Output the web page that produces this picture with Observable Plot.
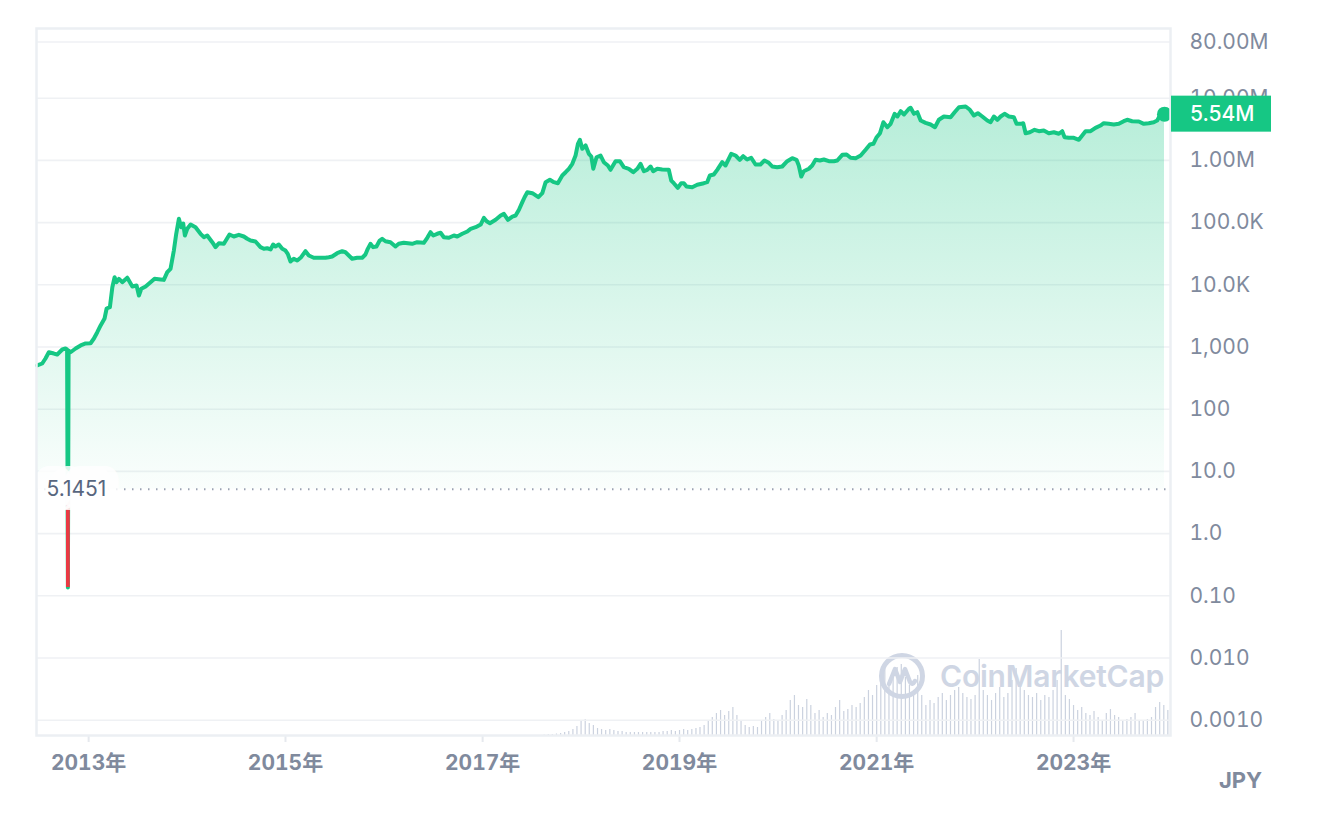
<!DOCTYPE html>
<html><head><meta charset="utf-8">
<script src="https://cdn.jsdelivr.net/npm/d3@7"></script>
<script src="https://cdn.jsdelivr.net/npm/@observablehq/plot@0.6"></script>
<style>
body{margin:0;background:#fff;font-family:Inter,"Noto Sans CJK JP",sans-serif;}
#wrap{position:relative;width:1318px;height:819px;overflow:hidden;}
#wrap > svg{position:absolute;left:0;top:0;}
[aria-label^="x-axis"] text{font-weight:700;}
[aria-label^="x-axis"] line,[aria-label^="x-axis"] path{stroke:#e6e9ee;stroke-width:2px;}
#jpy{position:absolute;left:1219px;top:767px;font:700 22px Inter,sans-serif;color:#808a9d;}
#wm{position:absolute;left:878px;top:652px;display:flex;align-items:center;gap:14px;color:#cfd6e4;font:600 30px Inter,sans-serif;letter-spacing:-0.2px;}
</style></head><body><div id="wrap"></div>
<script>
// ---- data ----
const priceYears = [
2012.479,2012.530,2012.563,2012.597,2012.648,2012.682,2012.733,2012.766,2012.782,2012.790,2012.797,2012.817,2012.868,2012.919,2012.970,
2013.020,2013.054,2013.088,2013.122,2013.162,2013.183,2013.216,2013.241,2013.264,2013.284,2013.308,2013.342,2013.393,2013.444,2013.487,2013.511,2013.535,2013.579,2013.629,2013.670,2013.731,2013.764,2013.799,2013.832,2013.866,2013.890,2013.917,2013.941,2013.961,2013.978,
2014.002,2014.036,2014.086,2014.137,2014.171,2014.205,2014.256,2014.289,2014.323,2014.374,2014.431,2014.475,2014.526,2014.577,2014.611,2014.645,2014.695,2014.746,2014.780,2014.814,2014.848,2014.875,2014.898,2014.932,2014.967,
2015.000,2015.023,2015.051,2015.084,2015.119,2015.159,2015.203,2015.237,2015.287,2015.338,2015.406,2015.440,2015.474,2015.525,2015.576,2015.609,2015.643,2015.677,2015.728,2015.779,2015.812,2015.836,2015.863,2015.891,2015.924,2015.957,2015.982,
2016.015,2016.066,2016.117,2016.150,2016.201,2016.286,2016.337,2016.404,2016.439,2016.472,2016.500,2016.540,2016.574,2016.607,2016.658,2016.709,2016.743,2016.794,2016.845,2016.878,2016.929,2016.980,
2017.013,2017.041,2017.074,2017.132,2017.183,2017.216,2017.257,2017.302,2017.335,2017.369,2017.403,2017.426,2017.454,2017.505,2017.566,2017.606,2017.640,2017.683,2017.724,2017.764,2017.809,2017.843,2017.876,2017.911,2017.944,2017.968,2017.988,
2018.012,2018.046,2018.079,2018.104,2018.124,2018.157,2018.198,2018.231,2018.272,2018.299,2018.350,2018.394,2018.434,2018.485,2018.530,2018.571,2018.604,2018.638,2018.672,2018.706,2018.733,2018.774,2018.824,2018.891,2018.916,2018.942,2018.983,
2019.017,2019.044,2019.071,2019.129,2019.180,2019.247,2019.281,2019.308,2019.348,2019.383,2019.434,2019.467,2019.525,2019.569,2019.612,2019.647,2019.687,2019.728,2019.772,2019.822,2019.863,2019.907,2019.942,2019.992,
2020.043,2020.094,2020.145,2020.188,2020.211,2020.236,2020.262,2020.313,2020.347,2020.381,2020.424,2020.465,2020.516,2020.567,2020.601,2020.652,2020.695,2020.736,2020.787,2020.838,2020.888,2020.932,2020.967,
2021.000,2021.034,2021.068,2021.109,2021.142,2021.183,2021.211,2021.244,2021.278,2021.328,2021.345,2021.379,2021.413,2021.447,2021.497,2021.548,2021.592,2021.632,2021.683,2021.751,2021.792,2021.836,2021.904,2021.947,2021.988,
2022.028,2022.073,2022.124,2022.157,2022.191,2022.226,2022.259,2022.299,2022.343,2022.394,2022.421,2022.462,2022.489,2022.513,2022.556,2022.604,2022.648,2022.698,2022.749,2022.800,2022.851,2022.885,2022.909,2022.952,
2023.003,2023.054,2023.088,2023.122,2023.173,2023.223,2023.274,2023.307,2023.358,2023.409,2023.460,2023.510,2023.545,2023.596,2023.663,2023.714,2023.764,2023.815,2023.850,2023.883,2023.924
];
const priceValues = [
505,543,653,824,785,757,912,946,912,0.136,879,824,946,1060,1140,
1150,1370,1730,2220,2870,4160,4370,9140,13200,11000,12500,11000,13000,9400,9750,6730,8630,9400,11000,12500,12200,12000,16000,18100,35600,66100,115000,84300,96800,62100,
79400,93100,84300,66100,58200,62100,48400,40300,46700,45600,64400,59800,63700,59800,55000,51500,49700,40300,37900,38700,37000,44500,41300,44500,37900,
35600,31500,23700,26200,24600,27800,34700,29600,27200,27200,27200,27800,28500,32200,34700,33400,29600,26200,27200,27200,30700,37900,45600,40300,41300,51500,55000,
50200,48400,41300,45600,47300,45600,48400,47300,57000,70100,62100,66100,68600,58200,57000,62100,59800,66100,72000,79400,84300,93100,
119000,105000,97700,111000,130000,138000,111000,125000,130000,161000,213000,256000,308000,297000,256000,297000,447000,488000,447000,430000,572000,646000,733000,881000,1199000,1849000,2143000,
1535000,1738000,1276000,1156000,733000,1125000,1199000,936000,828000,706000,971000,971000,778000,733000,646000,733000,881000,670000,706000,798000,670000,733000,714000,706000,475000,430000,362000,
430000,430000,380000,371000,406000,430000,447000,572000,593000,706000,936000,828000,1276000,1199000,1023000,1169000,1034000,1102000,859000,859000,996000,915000,798000,778000,
798000,971000,1084000,1023000,828000,551000,670000,733000,828000,1023000,996000,1034000,971000,971000,996000,1230000,1245000,1102000,1084000,1199000,1480000,1801000,1849000,
2360000,2737000,4111000,3420000,3873000,5610000,5080000,6180000,5470000,6760000,7010000,5610000,5957000,4378000,4021000,3777000,3420000,4497000,5080000,4950000,5957000,7170000,7360000,6510000,5270000,
5740000,5080000,4378000,4111000,5080000,4497000,5080000,5610000,5080000,4950000,3873000,3873000,3963000,2737000,2839000,3105000,2946000,3025000,2737000,2839000,2679000,2946000,2360000,2307000,
2307000,2143000,2512000,2946000,2946000,3342000,3639000,3963000,3873000,3777000,3873000,4266000,4497000,4266000,4220000,3873000,3963000,4111000,4378000,5470000,5540000
];
// trading volume (billion JPY, approximate, half-monthly)
const volumeYears = [
2017.625,2017.667,2017.708,2017.750,2017.792,2017.833,2017.875,2017.917,2017.958,
2018.000,2018.042,2018.083,2018.125,2018.167,2018.208,2018.250,2018.292,2018.333,2018.375,2018.417,2018.458,2018.500,2018.542,2018.583,2018.625,2018.667,2018.708,2018.750,2018.792,2018.833,2018.875,2018.917,2018.958,
2019.000,2019.042,2019.083,2019.125,2019.167,2019.208,2019.250,2019.292,2019.333,2019.375,2019.417,2019.458,2019.500,2019.542,2019.583,2019.625,2019.667,2019.708,2019.750,2019.792,2019.833,2019.875,2019.917,2019.958,
2020.000,2020.042,2020.083,2020.125,2020.167,2020.208,2020.250,2020.292,2020.333,2020.375,2020.417,2020.458,2020.500,2020.542,2020.583,2020.625,2020.667,2020.708,2020.750,2020.792,2020.833,2020.875,2020.917,2020.958,
2021.000,2021.042,2021.083,2021.125,2021.167,2021.208,2021.250,2021.292,2021.333,2021.375,2021.417,2021.458,2021.500,2021.542,2021.583,2021.625,2021.667,2021.708,2021.750,2021.792,2021.833,2021.875,2021.917,2021.958,
2022.000,2022.042,2022.083,2022.125,2022.167,2022.208,2022.250,2022.292,2022.333,2022.375,2022.417,2022.458,2022.500,2022.542,2022.583,2022.625,2022.667,2022.708,2022.750,2022.792,2022.833,2022.875,2022.917,2022.958,
2023.000,2023.042,2023.083,2023.125,2023.167,2023.208,2023.250,2023.292,2023.333,2023.375,2023.417,2023.458,2023.500,2023.542,2023.583,2023.625,2023.667,2023.708,2023.750,2023.792,2023.833,2023.875,2023.917,2023.958
];
const volumeValues = [
10,20,20,30,40,60,80,120,180,
280,320,240,200,140,120,100,120,100,80,80,60,60,60,60,60,60,60,60,60,80,80,100,80,
100,120,100,120,140,160,200,280,360,440,500,400,480,560,400,280,200,160,180,160,280,360,440,320,
300,400,500,700,800,600,560,720,600,440,500,360,440,400,560,700,480,520,600,560,640,760,900,800,
1000,1240,1400,1100,1200,1360,1420,1160,1000,900,1200,800,600,700,640,760,840,700,800,900,960,840,760,720,
800,1520,900,800,700,840,960,760,840,1100,1340,1000,900,800,760,840,700,800,760,900,1100,2100,800,720,
600,500,560,440,400,480,360,300,440,520,400,360,280,320,360,440,300,280,320,360,560,660,600,500
];
const yTicks = [8e7,1e7,1e6,1e5,1e4,1e3,100,10,1,0.1,0.01,0.001];
const yTickLabels = ["80.00M","10.00M","1.00M","100.0K","10.0K","1,000","100","10.0","1.0","0.10","0.010","0.0010"];
const xTickYears = [2013,2015,2017,2019,2021,2023];
const baseline = 5.1451;
const lastLabel = "5.54M";
const currency = "JPY";

// ---- build ----
const toDate = y => { const yr = Math.floor(y); const s = Date.UTC(yr,0,1), e = Date.UTC(yr+1,0,1); return new Date(s + (y-yr)*(e-s)); };
const prices = priceYears.map((y,i)=>({date: toDate(y), price: priceValues[i]}));
const volumes = volumeYears.map((y,i)=>({date: toDate(y), volume: volumeValues[i]}));
const last = prices[prices.length-1];
const W = 1318, H = 819;
const M = {top:28, bottom:84, left:36, right:148};
const xDomain = [toDate(2012.472), toDate(2023.985)];
const yDomain = [5.68e-4, 1.32e8];

const vol = Plot.plot({
  width: W, height: H, marginTop: 630, marginBottom: M.bottom, marginLeft: M.left, marginRight: M.right,
  style: {background: "transparent"},
  x: {type: "utc", domain: xDomain, axis: null},
  y: {domain: [0, d3.max(volumeValues)], axis: null},
  marks: [Plot.ruleX(volumes, {x: "date", y1: 0, y2: "volume", stroke: "#cbd2df", strokeWidth: 1.2})]
});

const main = Plot.plot({
  width: W, height: H, marginTop: M.top, marginBottom: M.bottom, marginLeft: M.left, marginRight: M.right,
  style: {background: "transparent", fontFamily: "Inter, 'Noto Sans CJK JP', sans-serif", fontSize: "21px", color: "#808a9d", overflow: "visible"},
  x: {type: "utc", domain: xDomain, ticks: xTickYears.map(toDate), tickFormat: d => d.getUTCFullYear() + "年", tickSize: 7, tickPadding: 13, label: null},
  y: {type: "log", domain: yDomain, ticks: yTicks, tickFormat: d => yTickLabels[yTicks.indexOf(d)], axis: "right", tickSize: 0, tickPadding: 19, label: null},
  marks: [
    Plot.ruleY(yTicks, {stroke: "#eff1f4", strokeWidth: 1.6}),
    Plot.areaY(prices, {x: "date", y1: baseline, y2: "price", fill: "url(#priceFill)"}),
    Plot.ruleY([baseline], {stroke: "#9aa2b2", strokeWidth: 2, strokeDasharray: "1.5,6.5"}),
    Plot.lineY(prices, {x: "date", y: "price", stroke: "#16c784", strokeWidth: 4, strokeLinejoin: "round", strokeLinecap: "round"}),
    Plot.ruleX(prices.filter(d => d.price < baseline), {x: "date", y1: baseline, y2: "price", stroke: "#ea3943", strokeWidth: 3.8}),
    Plot.text([baseline], {y: d => d, frameAnchor: "left", dx: 10, text: d => String(d), textAnchor: "start", fill: "#58667e", stroke: "white", strokeWidth: 28, strokeOpacity: 0.86, strokeLinejoin: "round", fontSize: 21}),
    Plot.dot([last], {x: "date", y: "price", r: 7.5, fill: "#16c784"}),
    Plot.frame({stroke: "#eceff3", strokeWidth: 2.5})
  ]
});

// gradient for the area, positioned with the plot's own y scale
const sy = main.scale("y");
const svg = d3.select(main);
const defs = svg.insert("defs", ":first-child");
const grad = defs.append("linearGradient").attr("id", "priceFill").attr("gradientUnits", "userSpaceOnUse")
  .attr("x1", 0).attr("x2", 0).attr("y1", sy.apply(d3.max(priceValues))).attr("y2", sy.apply(baseline));
grad.append("stop").attr("offset", "0%").attr("stop-color", "#16c784").attr("stop-opacity", 0.31);
grad.append("stop").attr("offset", "100%").attr("stop-color", "#16c784").attr("stop-opacity", 0.02);

// last-price label box, anchored to the right edge of the frame
const py = sy.apply(last.price);
const bx = W - M.right + 1;
const lab = svg.append("g").attr("text-anchor", "start");
lab.append("rect").attr("x", bx).attr("y", py - 18).attr("width", 100).attr("height", 36).attr("fill", "#16c784");
lab.append("text").attr("x", bx + 19).attr("y", py).attr("dy", "0.36em").attr("fill", "#fff").attr("text-anchor", "start")
  .attr("font-size", 21).attr("font-weight", 500).text(lastLabel);

const wrap = document.getElementById("wrap");
wrap.appendChild(vol);
const wm = document.createElement("div");
wm.id = "wm";
wm.innerHTML = '<svg width="48" height="48" viewBox="0 0 48 48"><circle cx="24" cy="24" r="20.5" fill="none" stroke="#cfd6e4" stroke-width="5"/><path d="M11 32 L17 17 L22 30 L27 17 L32 30 Q34 34 37 29" fill="none" stroke="#cfd6e4" stroke-width="4.5" stroke-linejoin="round" stroke-linecap="round"/></svg><span>CoinMarketCap</span>';
wrap.appendChild(wm);
wrap.appendChild(main);
const jpy = document.createElement("div");
jpy.id = "jpy"; jpy.textContent = currency;
wrap.appendChild(jpy);
</script>
</body></html>
